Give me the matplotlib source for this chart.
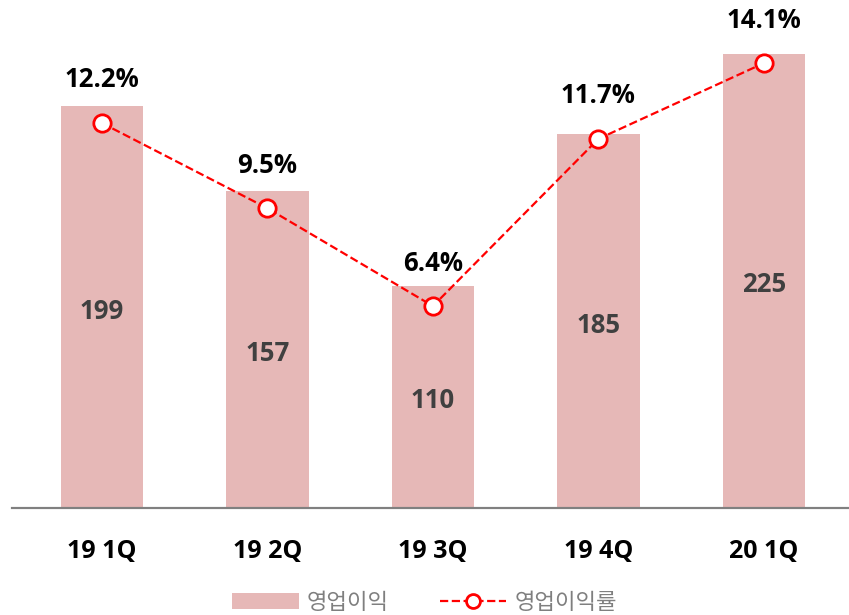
import matplotlib.pyplot as plt
from matplotlib.lines import Line2D
from matplotlib.patches import Patch

# 데이터
quarters = ['19 1Q', '19 2Q', '19 3Q', '19 4Q', '20 1Q']
op_profit = [199, 157, 110, 185, 225]
op_margin = [12.2, 9.5, 6.4, 11.7, 14.1]
margin_labels = ['12.2%', '9.5%', '6.4%', '11.7%', '14.1%']

bar_color = '#E6B8B7'
line_color = '#FF0000'

plt.rcParams['font.family'] = ['Open Sans', 'Noto Sans CJK KR', 'DejaVu Sans']

fig = plt.figure(figsize=(8.49, 6.15), dpi=100)
ax = fig.add_axes([0.014, 0.174, 0.986, 0.826])
x = list(range(len(quarters)))

ax.bar(x, op_profit, width=0.5, color=bar_color, zorder=1)
ax.set_ylim(0, 251.5)
ax.set_xlim(-0.544, 4.514)

for i, v in enumerate(op_profit):
    ax.text(i, v / 2 - 2, str(v), ha='center', va='center',
            fontsize=18.5, fontweight='bold', color='#404040')

ax2 = ax.twinx()
ax2.plot(x, op_margin, color=line_color, linestyle='--', linewidth=1.6,
         marker='o', markersize=12.5, markerfacecolor='white',
         markeredgecolor=line_color, markeredgewidth=2, zorder=3)
ax2.set_ylim(0, 16.1)

for i, v in enumerate(op_margin):
    ax2.annotate(margin_labels[i], (i, v), xytext=(0, 31), textcoords='offset points',
                 ha='center', va='center', fontsize=18.5, fontweight='bold', color='black')

for a in (ax, ax2):
    a.set_yticks([])
    for s in ('top', 'right', 'left'):
        a.spines[s].set_visible(False)
    a.spines['bottom'].set_color('#808080')
    a.spines['bottom'].set_linewidth(1.5)

ax.set_xticks(x)
ax.set_xticklabels(quarters, fontsize=18, fontweight='bold')
ax.tick_params(axis='x', length=0, pad=22)

handles = [
    Patch(facecolor=bar_color, edgecolor='none'),
    Line2D([0], [0], color=line_color, linestyle='--', linewidth=1.6, marker='o',
           markersize=10, markerfacecolor='white', markeredgecolor=line_color,
           markeredgewidth=2),
]
fig.legend(handles, ['영업이익', '영업이익률'], loc='center',
           bbox_to_anchor=(0.5, 0.021), ncol=2, frameon=False,
           prop={'family': ['Noto Sans CJK KR', 'DejaVu Sans'], 'size': 16},
           labelcolor='#7F7F7F', handlelength=3.0, handleheight=0.75,
           columnspacing=2.3, handletextpad=0.35, borderpad=0)

fig.savefig('out.png', dpi=100)
